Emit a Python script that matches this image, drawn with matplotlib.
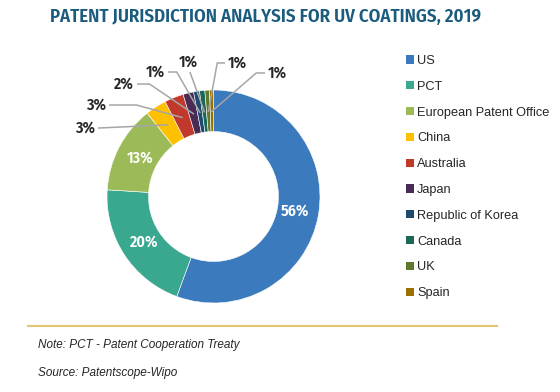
import numpy as np
import matplotlib

matplotlib.use("Agg")
import matplotlib.pyplot as plt
from matplotlib.patches import Patch
from matplotlib.lines import Line2D

# data
categories = ["US", "PCT", "European Patent Office", "China", "Australia", "Japan",
              "Republic of Korea", "Canada", "UK", "Spain"]
shares = [55.6, 20.4, 13.3, 3.2, 2.9, 1.6, 0.9, 0.8, 0.7, 0.6]
pct_labels = ["56%", "20%", "13%", "3%", "3%", "2%", "1%", "1%", "1%", "1%"]
colors = ["#3a7abd", "#3aa88f", "#9cbb58", "#ffc000", "#c0392b", "#4a2b55",
          "#1f4a70", "#1c6656", "#5d7a2d", "#9a7000"]

TITLE = "PATENT JURISDICTION ANALYSIS FOR UV COATINGS, 2019"
NOTE = "Note: PCT - Patent Cooperation Treaty"
SOURCE = "Source: Patentscope-Wipo"

COND = ["Fira Sans Condensed", "DejaVu Sans"]
SANS = ["Liberation Sans", "DejaVu Sans"]
TEXT_COLOR = "#262626"
LEADER = "#a6a6a6"

# outside labels: (text x, text y, ha, horizontal arm length) in data units
outside = {
    3: (-1.113, 0.643, "right", 0.0),
    4: (-1.009, 0.859, "right", 0.25),
    5: (-0.746, 1.056, "right", 0.11),
    6: (-0.455, 1.169, "right", 0.075),
    7: (-0.239, 1.263, "center", 0.0),
    8: (0.136, 1.254, "left", 0.066),
    9: (0.512, 1.160, "left", 0.075),
}

fig = plt.figure(figsize=(5.6, 3.92), dpi=100)
fig.patch.set_facecolor("white")

lim = 1.3
ax = fig.add_axes([75.05 / 560, 57.05 / 392, 2 * lim * 106.5 / 560, 2 * lim * 106.5 / 392])
wedges, _ = ax.pie(
    shares,
    colors=colors,
    startangle=90,
    counterclock=False,
    radius=1.0,
    wedgeprops={"width": 0.39, "edgecolor": "white", "linewidth": 0.4},
)
ax.set_xlim(-lim, lim)
ax.set_ylim(-lim, lim)
ax.set_aspect("equal")
ax.axis("off")

for i, w in enumerate(wedges):
    mid = np.deg2rad((w.theta1 + w.theta2) / 2.0)
    if i not in outside:
        r = 0.78
        ax.text(r * np.cos(mid), r * np.sin(mid), pct_labels[i], color="white",
                fontsize=11.5, fontweight="semibold", family=COND, ha="center", va="center")
        continue
    tx, ty, ha, arm = outside[i]
    ex, ey = 0.8 * np.cos(mid), 0.8 * np.sin(mid)
    ax.text(tx, ty, pct_labels[i], color=TEXT_COLOR, fontsize=11.5, fontweight="semibold",
            family=COND, ha=ha, va="center")
    gap = 0.035
    if ha == "right":
        sx = tx + gap
        pts = [(sx, ty), (sx + arm, ty), (ex, ey)]
    elif ha == "left":
        sx = tx - gap
        pts = [(sx, ty), (sx - arm, ty), (ex, ey)]
    else:
        pts = [(tx + 0.02, ty - 0.1), (ex, ey)]
    xs, ys = zip(*pts)
    ax.add_line(Line2D(xs, ys, color=LEADER, lw=1.1, clip_on=False))

title = fig.text(266 / 560, 1 - 17 / 392, TITLE, ha="center", va="center", fontsize=14,
                 fontweight="semibold", family=COND, color="#1b5c7e")
# fit the title to the width it takes in the reference (~432 px)
renderer = fig.canvas.get_renderer()
tw = title.get_window_extent(renderer).width
title.set_fontsize(14 * 432 / tw)

handles = [Patch(facecolor=c, edgecolor="none") for c in colors]
fig.legend(handles, categories, loc="upper left", bbox_to_anchor=(406 / 560, 1 - 55 / 392),
           frameon=False, prop={"family": SANS, "size": 9.2}, labelcolor=TEXT_COLOR,
           handlelength=0.62, handleheight=0.62, handletextpad=0.25, labelspacing=1.08,
           borderaxespad=0, borderpad=0)

fig.add_artist(Line2D([28 / 560, 497 / 560], [1 - 326 / 392, 1 - 326 / 392],
                      color="#e3c671", lw=1.5, transform=fig.transFigure))
fig.text(38 / 560, 1 - 345 / 392, NOTE, ha="left", va="center", fontsize=8.5,
         style="italic", family=SANS, color=TEXT_COLOR)
fig.text(38 / 560, 1 - 373 / 392, SOURCE, ha="left", va="center", fontsize=8.5,
         style="italic", family=SANS, color=TEXT_COLOR)

fig.savefig("out.png", dpi=100, facecolor="white")
